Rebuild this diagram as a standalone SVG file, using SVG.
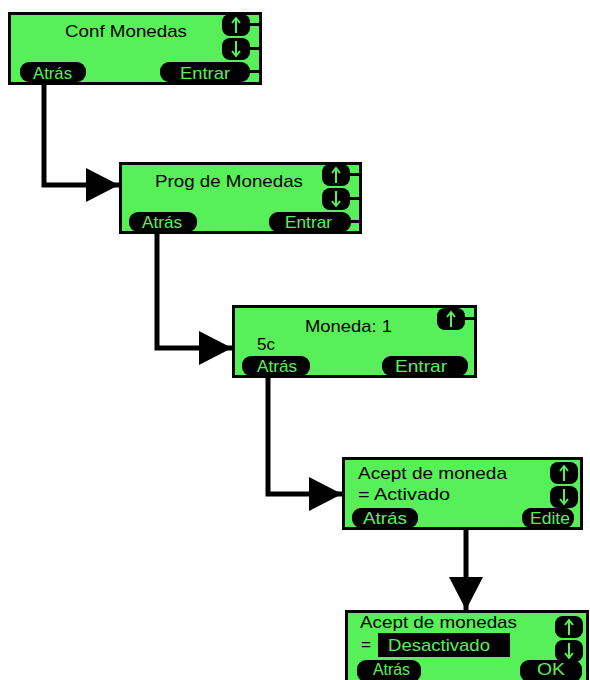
<svg xmlns="http://www.w3.org/2000/svg" width="590" height="680" viewBox="0 0 590 680">
<style>
.frame{fill:#58f058;stroke:#000;stroke-width:3}
.pill{fill:#000}
.lbl{font-family:"Liberation Sans",Arial,sans-serif;font-size:17px;fill:#000}
.btn{font-family:"Liberation Sans",Arial,sans-serif;font-size:17px;fill:#58f058}
.arr{stroke:#58f058;stroke-width:2;fill:none}
.conn{stroke:#000;stroke-width:5;fill:none}
</style>
<defs>
<marker id="ah" markerUnits="userSpaceOnUse" markerWidth="34" markerHeight="36" refX="33" refY="18" orient="auto">
<polygon points="0,1 33,18 0,35" fill="#000"/>
</marker>
<g id="updown">
<rect x="0" y="0" width="28" height="22" rx="8" class="pill"/>
<rect x="0" y="24" width="28" height="22" rx="8" class="pill"/>
<path class="arr" d="M14,19 V5 M10,9 L14,4 L18,9"/>
<path class="arr" d="M14,27 V41 M10,37 L14,42 L18,37"/>
</g>
</defs>

<g id="connectors">
<path class="conn" d="M44,84 V185 H119" marker-end="url(#ah)"/>
<path class="conn" d="M157,233 V348 H232" marker-end="url(#ah)"/>
<path class="conn" d="M268,377 V494 H342" marker-end="url(#ah)"/>
<path class="conn" d="M466,529 V610" marker-end="url(#ah)"/>
</g>

<g id="conf-monedas" transform="translate(8,12)">
<rect class="frame" x="1.5" y="1.5" width="251" height="70"/>
<use href="#updown" x="214" y="2"/>
<rect x="240" y="11" width="12" height="3" fill="#000"/>
<rect x="240" y="35" width="12" height="3" fill="#000"/>
<rect class="pill" x="12" y="50" width="66" height="20" rx="9"/>
<rect class="pill" x="152" y="50" width="90" height="20" rx="9"/>
<rect x="240" y="58" width="12" height="3" fill="#000"/>
<text class="lbl" x="57" y="25" textLength="122" lengthAdjust="spacingAndGlyphs">Conf Monedas</text>
<text class="btn" x="25" y="67" textLength="39" lengthAdjust="spacingAndGlyphs">Atrás</text>
<text class="btn" x="172" y="67" textLength="50" lengthAdjust="spacingAndGlyphs">Entrar</text>
</g>

<g id="prog-monedas" transform="translate(119,162)">
<rect class="frame" x="1.5" y="1.5" width="240" height="69"/>
<use href="#updown" x="203" y="2"/>
<rect x="229" y="11" width="12" height="3" fill="#000"/>
<rect x="229" y="35" width="12" height="3" fill="#000"/>
<rect class="pill" x="10" y="50" width="68" height="20" rx="9"/>
<rect class="pill" x="150" y="50" width="82" height="20" rx="9"/>
<rect x="230" y="58" width="11" height="3" fill="#000"/>
<text class="lbl" x="36" y="25" textLength="148" lengthAdjust="spacingAndGlyphs">Prog de Monedas</text>
<text class="btn" x="23" y="66" textLength="40" lengthAdjust="spacingAndGlyphs">Atrás</text>
<text class="btn" x="166" y="66" textLength="47" lengthAdjust="spacingAndGlyphs">Entrar</text>
</g>

<g id="moneda-1" transform="translate(232,305)">
<rect class="frame" x="1.5" y="1.5" width="242" height="70"/>
<rect class="pill" x="205" y="3" width="28" height="22" rx="8"/>
<rect x="231" y="12" width="12" height="3" fill="#000"/>
<path class="arr" d="M219,22 V8 M215,12 L219,7 L223,12"/>
<rect class="pill" x="10" y="51" width="68" height="20" rx="9"/>
<rect class="pill" x="150" y="51" width="86" height="20" rx="9"/>
<text class="lbl" x="73" y="27" textLength="87" lengthAdjust="spacingAndGlyphs">Moneda: 1</text>
<text class="lbl" x="25" y="45" textLength="18" lengthAdjust="spacingAndGlyphs">5c</text>
<text class="btn" x="25" y="67" textLength="40" lengthAdjust="spacingAndGlyphs">Atrás</text>
<text class="btn" x="163" y="67" textLength="52" lengthAdjust="spacingAndGlyphs">Entrar</text>
</g>

<g id="acept-moneda" transform="translate(342,457)">
<rect class="frame" x="1.5" y="1.5" width="238" height="70"/>
<use href="#updown" x="208" y="5"/>
<rect class="pill" x="10" y="51" width="66" height="20" rx="9"/>
<rect class="pill" x="180" y="51" width="52" height="20" rx="9"/>
<text class="lbl" x="16" y="22" textLength="149" lengthAdjust="spacingAndGlyphs">Acept de moneda</text>
<text class="lbl" x="16" y="43" textLength="92" lengthAdjust="spacingAndGlyphs">= Activado</text>
<text class="btn" x="21" y="67" textLength="44" lengthAdjust="spacingAndGlyphs">Atrás</text>
<text class="btn" x="188" y="67" textLength="40" lengthAdjust="spacingAndGlyphs">Edite</text>
</g>

<g id="acept-monedas" transform="translate(345,610)">
<rect class="frame" x="1.5" y="1.5" width="241" height="80"/>
<use href="#updown" x="210" y="6"/>
<rect x="33" y="23" width="132" height="24" fill="#000"/>
<rect class="pill" x="12" y="50" width="64" height="22" rx="9"/>
<rect class="pill" x="175" y="50" width="62" height="22" rx="9"/>
<text class="lbl" x="15" y="18" textLength="157" lengthAdjust="spacingAndGlyphs">Acept de monedas</text>
<text class="lbl" x="16" y="40">=</text>
<text class="btn" x="43" y="41" textLength="102" lengthAdjust="spacingAndGlyphs">Desactivado</text>
<text class="btn" x="28" y="65" font-size="16" textLength="37" lengthAdjust="spacingAndGlyphs">Atrás</text>
<text class="btn" x="192" y="65" font-size="16" textLength="28" lengthAdjust="spacingAndGlyphs">OK</text>
</g>
</svg>
